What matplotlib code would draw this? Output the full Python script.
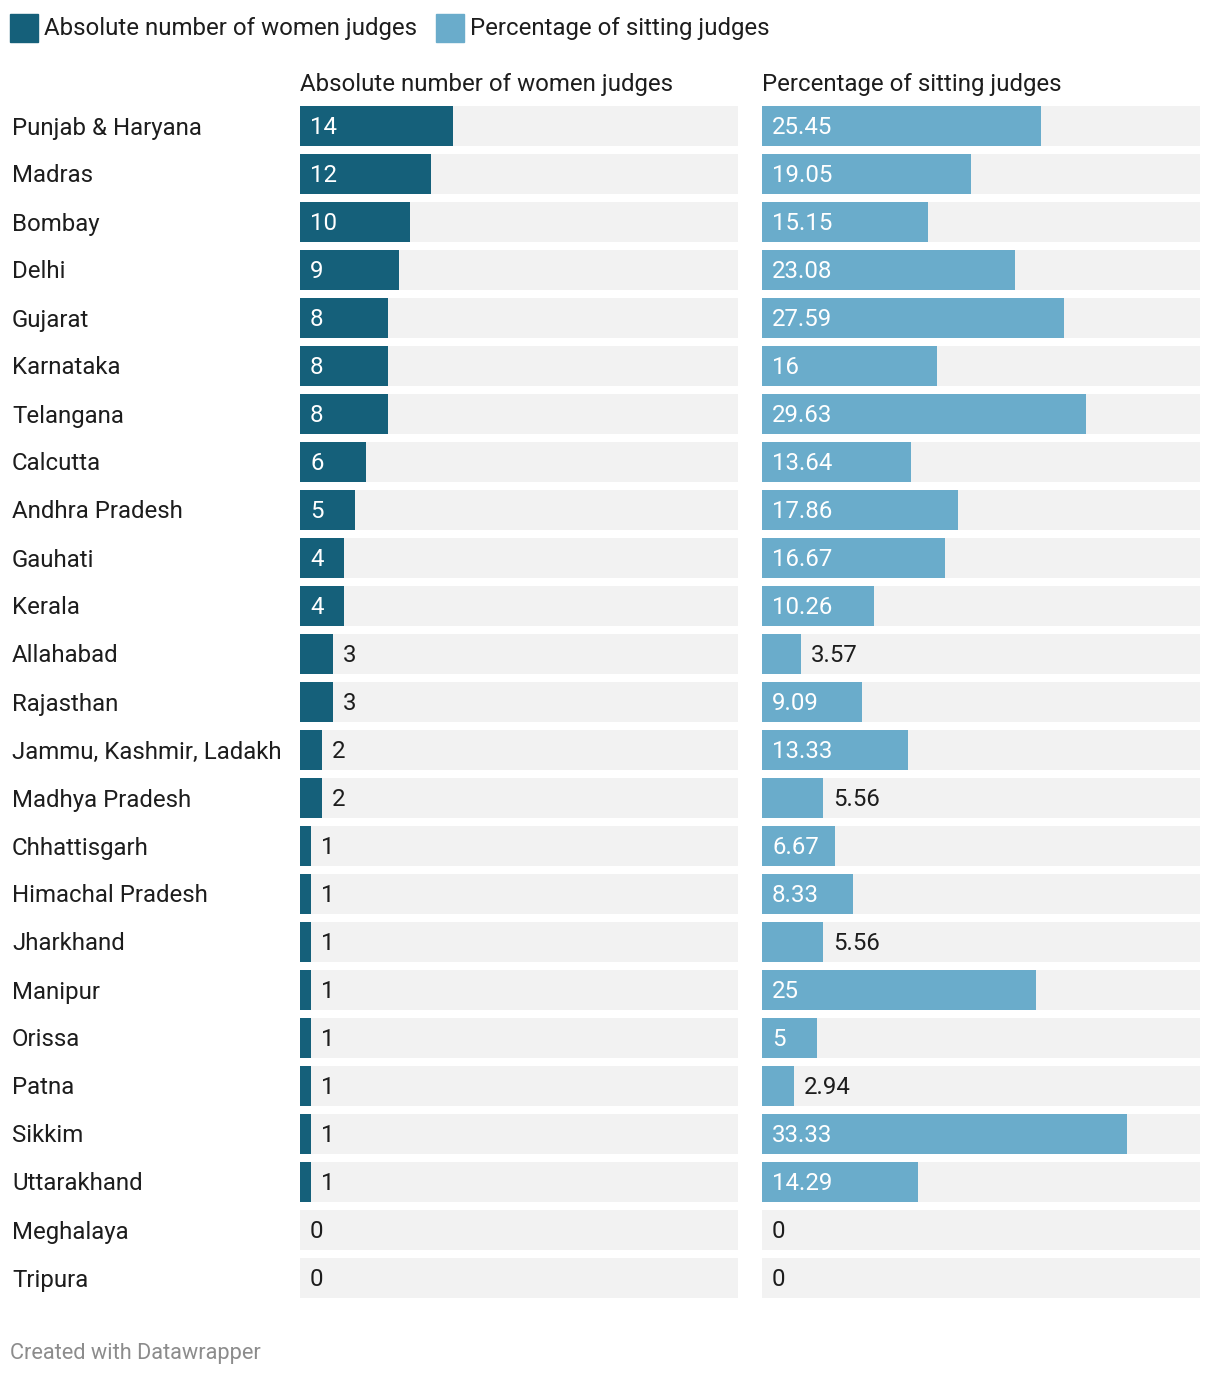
import numpy as np
import matplotlib
matplotlib.use("Agg")
import matplotlib.pyplot as plt
from matplotlib.patches import Rectangle

plt.rcParams['font.family'] = ['Roboto', 'DejaVu Sans']

courts = ["Punjab & Haryana", "Madras", "Bombay", "Delhi", "Gujarat", "Karnataka",
          "Telangana", "Calcutta", "Andhra Pradesh", "Gauhati", "Kerala", "Allahabad",
          "Rajasthan", "Jammu, Kashmir, Ladakh", "Madhya Pradesh", "Chhattisgarh",
          "Himachal Pradesh", "Jharkhand", "Manipur", "Orissa", "Patna", "Sikkim",
          "Uttarakhand", "Meghalaya", "Tripura"]
women = [14, 12, 10, 9, 8, 8, 8, 6, 5, 4, 4, 3, 3, 2, 2, 1, 1, 1, 1, 1, 1, 1, 1, 0, 0]
women_lbl = [str(v) for v in women]
pct = [25.45, 19.05, 15.15, 23.08, 27.59, 16, 29.63, 13.64, 17.86, 16.67, 10.26, 3.57,
       9.09, 13.33, 5.56, 6.67, 8.33, 5.56, 25, 5, 2.94, 33.33, 14.29, 0, 0]
pct_lbl = ["25.45", "19.05", "15.15", "23.08", "27.59", "16", "29.63", "13.64", "17.86",
           "16.67", "10.26", "3.57", "9.09", "13.33", "5.56", "6.67", "8.33", "5.56",
           "25", "5", "2.94", "33.33", "14.29", "0", "0"]

DARK = "#15607a"
LIGHT = "#6aaccb"
BG = "#f2f2f2"
TXT = "#1d1d1d"
W, H = 1220, 1376
FS = 17.3
XMAX = 40
DY = 2  # px, nudge text down to sit visually centred

fig = plt.figure(figsize=(W / 100, H / 100), dpi=100)
renderer = fig.canvas.get_renderer()


def panel(x0, values, labels, color, title):
    ax = fig.add_axes([x0 / W, 1 - 1302 / H, 438 / W, 1200 / H])
    n = len(values)
    y = np.arange(n)
    ax.barh(y, [XMAX] * n, height=40 / 48, color=BG, left=0)
    ax.barh(y, values, height=40 / 48, color=color)
    ax.set_xlim(0, XMAX)
    ax.set_ylim(n - 0.5, -0.5)
    ax.axis("off")
    px = XMAX / 438.0
    for i, (v, lab) in enumerate(zip(values, labels)):
        t = ax.text(10 * px, i + DY / 48, lab, color="white", fontsize=FS, va="center", ha="left")
        wpx = t.get_window_extent(renderer).width
        if v == 0:
            t.set_color(TXT)
        elif wpx + 24 > v / px:
            t.set_x(v + 10 * px)
            t.set_color(TXT)
    fig.text(x0 / W, 1 - (82 + DY) / H, title, fontsize=FS, color=TXT, va="center", ha="left")
    return ax


panel(300, women, women_lbl, DARK, "Absolute number of women judges")
panel(762, pct, pct_lbl, LIGHT, "Percentage of sitting judges")

for i, c in enumerate(courts):
    fig.text(12 / W, 1 - (126 + DY + 48 * i) / H, c, fontsize=FS, color=TXT, va="center", ha="left")

# legend
for sx, col, lab in [(10, DARK, "Absolute number of women judges"),
                     (436, LIGHT, "Percentage of sitting judges")]:
    fig.patches.append(Rectangle((sx / W, 1 - 42 / H), 28 / W, 28 / H, color=col,
                                 transform=fig.transFigure, figure=fig))
    fig.text((sx + 34) / W, 1 - (27 + DY) / H, lab, fontsize=FS, color=TXT, va="center", ha="left")

fig.text(10 / W, 1 - (1351 + DY) / H, "Created with Datawrapper", fontsize=15.7, color="#8c8c8c",
         va="center", ha="left")

fig.savefig("out.png", dpi=100, facecolor="white")
